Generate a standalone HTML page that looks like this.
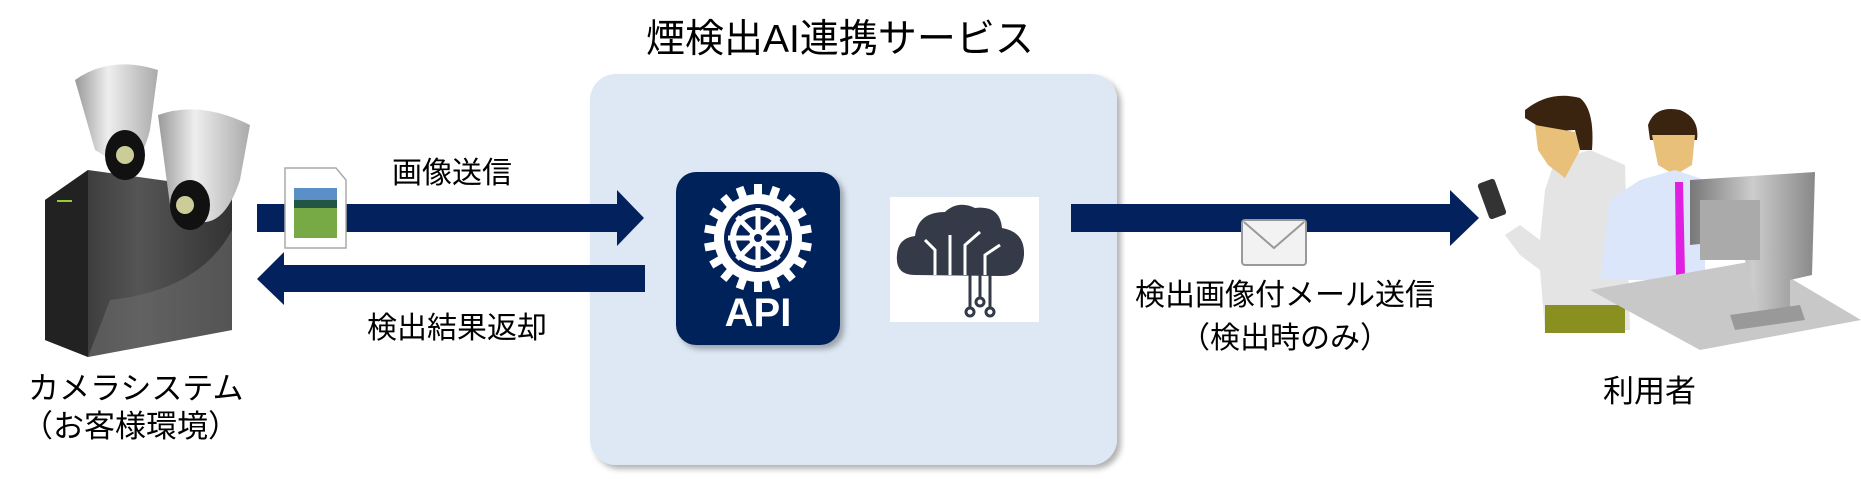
<!DOCTYPE html>
<html><head><meta charset="utf-8"><style>
html,body{margin:0;padding:0;background:#fff;}
body{width:1861px;height:479px;position:relative;overflow:hidden;font-family:"Liberation Sans","Noto Sans CJK JP",sans-serif;color:#000;}
.t{position:absolute;white-space:nowrap;line-height:1;}
</style></head><body>
<svg width="1861" height="479" style="position:absolute;left:0;top:0">
<defs>
<linearGradient id="tw" x1="0" x2="1"><stop offset="0" stop-color="#2a2a2a"/><stop offset="0.5" stop-color="#555"/><stop offset="1" stop-color="#333"/></linearGradient>
<linearGradient id="cam" x1="0" x2="1"><stop offset="0" stop-color="#999"/><stop offset="0.4" stop-color="#eee"/><stop offset="1" stop-color="#aaa"/></linearGradient>
<linearGradient id="mon" x1="0" x2="1"><stop offset="0" stop-color="#777"/><stop offset="0.5" stop-color="#ccc"/><stop offset="1" stop-color="#888"/></linearGradient>
<filter id="sh"><feDropShadow dx="4" dy="4" stdDeviation="3" flood-color="#000" flood-opacity="0.3"/></filter>
</defs>
<rect x="590" y="74" width="527" height="391" rx="26" fill="#dde8f4" filter="url(#sh)"/>
<polygon points="45,200 88,170 232,190 232,330 88,357 45,340" fill="url(#tw)"/>
<path d="M88,170 L88,357 L45,340 L45,200Z" fill="#222"/>
<path d="M110,300 Q200,290 232,230 L232,330 L88,357Z" fill="#6a6a6a" opacity="0.6"/>
<rect x="57" y="200" width="15" height="2" fill="#9c3"/>
<path d="M75,80 Q110,55 158,70 L150,130 Q140,170 120,165 L95,150Z" fill="url(#cam)"/>
<ellipse cx="125" cy="155" rx="20" ry="25" fill="#111"/><circle cx="125" cy="155" r="9" fill="#cc9"/>
<path d="M158,115 Q200,100 250,125 L240,180 Q225,225 200,222 L170,205Z" fill="url(#cam)"/>
<ellipse cx="190" cy="205" rx="20" ry="25" fill="#111"/><circle cx="185" cy="205" r="9" fill="#cc9"/>
<rect x="257" y="204" width="362" height="28" fill="#03215c"/>
<polygon points="617,190 644,218 617,246" fill="#03215c"/>
<rect x="283" y="265" width="362" height="27" fill="#03215c"/>
<polygon points="284,252 257,279 284,305" fill="#03215c"/>
<path d="M285,168 L336,168 L346,180 L346,248 L285,248Z" fill="#fff" stroke="#aaa" stroke-width="1.5"/>
<rect x="294" y="188" width="43" height="50" fill="#7a4"/>
<rect x="294" y="188" width="43" height="18" fill="#5a8fc8"/>
<rect x="294" y="200" width="43" height="8" fill="#254"/>
<rect x="676" y="172" width="164" height="173" rx="20" fill="#04205a" filter="url(#sh)"/>
<g transform="translate(758,238)" fill="#fff">
<g id="teeth"><rect x="-4" y="-54" width="8" height="12"/></g>
<use href="#teeth" transform="rotate(20)"/><use href="#teeth" transform="rotate(40)"/><use href="#teeth" transform="rotate(60)"/><use href="#teeth" transform="rotate(80)"/><use href="#teeth" transform="rotate(100)"/><use href="#teeth" transform="rotate(120)"/><use href="#teeth" transform="rotate(140)"/><use href="#teeth" transform="rotate(160)"/><use href="#teeth" transform="rotate(180)"/><use href="#teeth" transform="rotate(200)"/><use href="#teeth" transform="rotate(220)"/><use href="#teeth" transform="rotate(240)"/><use href="#teeth" transform="rotate(260)"/><use href="#teeth" transform="rotate(280)"/><use href="#teeth" transform="rotate(300)"/><use href="#teeth" transform="rotate(320)"/><use href="#teeth" transform="rotate(340)"/>
<circle r="44"/><circle r="34" fill="#04205a"/><circle r="28" fill="#fff"/><circle r="22" fill="#04205a"/>
<g stroke="#fff" stroke-width="5"><line x1="0" y1="-30" x2="0" y2="30"/><line x1="-30" y1="0" x2="30" y2="0"/><line x1="-21" y1="-21" x2="21" y2="21"/><line x1="-21" y1="21" x2="21" y2="-21"/></g>
<circle r="9"/><circle r="4" fill="#04205a"/>
</g>
<text x="758" y="326" text-anchor="middle" font-family="Liberation Sans,sans-serif" font-weight="bold" font-size="40" fill="#fff">API</text>
<rect x="890" y="197" width="149" height="125" fill="#fff"/>
<path d="M915,275 Q895,275 897,255 Q898,238 915,236 Q918,212 945,212 Q958,200 975,208 Q1000,205 1002,228 Q1025,232 1024,255 Q1022,277 1000,276Z" fill="#353a48"/>
<g stroke="#fff" stroke-width="3" fill="none"><path d="M935,275 L935,250 L925,240"/><path d="M950,275 L950,235"/><path d="M965,275 L965,245 L980,232"/><path d="M985,275 L985,255 L1000,245"/></g>
<g stroke="#353a48" stroke-width="3" fill="#fff"><line x1="970" y1="275" x2="970" y2="308"/><line x1="980" y1="275" x2="980" y2="300"/><line x1="990" y1="275" x2="990" y2="308"/><circle cx="970" cy="312" r="4"/><circle cx="980" cy="302" r="4"/><circle cx="990" cy="312" r="4"/></g>
<rect x="1071" y="204" width="381" height="28" fill="#03215c"/>
<polygon points="1450,190 1479,218 1450,246" fill="#03215c"/>
<rect x="1242" y="220" width="64" height="45" rx="3" fill="#f2f2f2" stroke="#999" stroke-width="2"/>
<polyline points="1244,222 1274,248 1304,222" fill="none" stroke="#999" stroke-width="2"/>
<!-- people -->
<path d="M1555,160 L1590,150 L1625,165 L1630,330 L1545,330 L1540,270 L1520,255 L1505,235 L1520,225 L1540,240 L1545,190Z" fill="#e4e4e4"/>
<path d="M1525,110 Q1550,90 1580,98 Q1595,110 1592,150 L1580,150 L1575,130 Q1560,130 1552,135 L1525,118Z" fill="#3a2410"/>
<path d="M1535,125 L1575,132 L1580,150 L1565,178 L1548,165 L1538,150Z" fill="#e8c07a"/>
<rect x="1483" y="180" width="18" height="38" rx="3" fill="#333" transform="rotate(-20 1492 199)"/>
<rect x="1545" y="305" width="80" height="28" fill="#8a9020"/>
<path d="M1648,125 Q1655,105 1680,110 Q1700,118 1697,140 L1650,140Z" fill="#3a2410"/>
<path d="M1652,135 L1695,135 L1692,165 L1675,175 L1658,165Z" fill="#e8c07a"/>
<path d="M1640,180 L1675,170 L1705,180 L1705,280 L1600,280 L1610,200Z" fill="#dbe6fa"/>
<polygon points="1675,182 1683,182 1685,275 1676,275" fill="#e020e0"/>
<polygon points="1590,290 1760,260 1861,320 1700,350" fill="#c8c8c8"/>
<polygon points="1690,180 1815,172 1812,275 1790,280 1790,320 1760,320 1740,240 1690,245" fill="url(#mon)"/>
<rect x="1700" y="200" width="60" height="60" fill="#aaa"/>
<polygon points="1730,315 1800,305 1805,320 1735,330" fill="#999"/>
</svg>
<div class="t" style="left:646px;top:20px;font-size:39px;">煙検出AI連携サービス</div>
<div class="t" style="left:28px;top:373px;font-size:31px;">カメラシステム</div>
<div class="t" style="left:22px;top:411px;font-size:31px;">（お客様環境）</div>
<div class="t" style="left:392px;top:159px;font-size:30px;">画像送信</div>
<div class="t" style="left:367px;top:314px;font-size:30px;">検出結果返却</div>
<div class="t" style="left:1135px;top:281px;font-size:30px;">検出画像付メール送信</div>
<div class="t" style="left:1180px;top:324px;font-size:30px;">（検出時のみ）</div>
<div class="t" style="left:1603px;top:376px;font-size:31px;">利用者</div>
</body></html>
